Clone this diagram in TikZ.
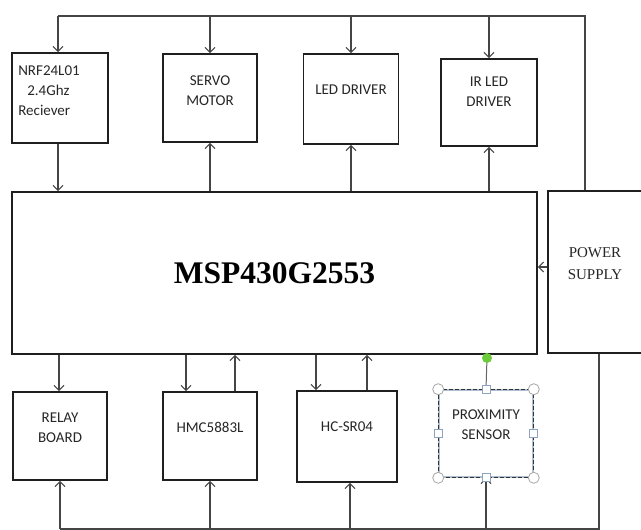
\documentclass[tikz,border=0pt]{standalone}
\usepackage{fontspec}
\setmainfont{Carlito}
\newfontfamily\timesfont{Liberation Serif}
\usepackage{xcolor}
\usetikzlibrary{positioning, arrows.meta, calc}
\definecolor{wirecol}{HTML}{454545}
\definecolor{handlecol}{HTML}{8DA3BF}
\definecolor{rotgreen}{HTML}{6CCB3A}

\begin{document}
\begin{tikzpicture}[
    x=1pt, y=-1pt,
    box/.style={rectangle, draw=black!88, line width=1.8pt, inner sep=0pt, minimum width=95pt, minimum height=89pt},
    lbl/.style={inner sep=0pt, align=center, font=\fontsize{15}{20}\selectfont, text=black!85},
    arrow/.style={line width=1.1pt, draw=wirecol, -{Straight Barb[length=5pt,width=10pt]}},
    wire/.style={line width=1.1pt, draw=wirecol},
    corner/.style={circle, draw=black!35, fill=white, line width=0.8pt, minimum size=11pt, inner sep=0pt},
    side/.style={rectangle, draw=handlecol, fill=white, line width=0.8pt, minimum size=8pt, inner sep=0pt}
]
\useasboundingbox (0,0) rectangle (641,530);
\clip (0,0) rectangle (641,530);

% Nodes
\node[box, minimum width=96pt, minimum height=90pt] (nrf) at (60,98) {};
\node[lbl, align=left, anchor=north west] (nrf-t) at ($(nrf.north west)+(7,13)$) {NRF24L01\\\hspace{9pt}2.4Ghz\\Reciever};

\node[box, minimum width=94pt, minimum height=88pt] (servo) at (210,98) {};
\node[lbl, below=22pt of servo.north] (servo-t) {SERVO\\MOTOR};

\node[box, minimum width=95pt, minimum height=90pt] (led) at (351,99) {};
\node[lbl, below=32pt of led.north] (led-t) {LED DRIVER};

\node[box, minimum width=96pt, minimum height=87pt] (ir) at (489,102.5) {};
\node[lbl, below=19pt of ir.north] (ir-t) {IR LED\\DRIVER};

\node[box, minimum width=525pt, minimum height=162pt] (msp) at (274.5,273) {\timesfont\bfseries\fontsize{31.5}{34}\selectfont MSP430G2553};

\node[box, minimum width=96pt, minimum height=162pt] (power) at (596,272) {};
\node[lbl, font=\timesfont\fontsize{15}{22}\selectfont, text=black!85] (power-t) at (595,264) {POWER\\SUPPLY};

\node[box, minimum width=94pt, minimum height=88pt] (relay) at (60,436) {};
\node[lbl, below=22pt of relay.north] (relay-t) {RELAY\\BOARD};

\node[box, minimum width=94pt, minimum height=88pt] (hmc) at (210,436) {};
\node[lbl, below=31pt of hmc.north] (hmc-t) {HMC5883L};

\node[box, minimum width=100pt, minimum height=91pt] (hc) at (347,436.5) {};
\node[lbl, below=31pt of hc.north] (hc-t) {HC-SR04};

\node[rectangle, draw=handlecol!70, line width=1.6pt, minimum width=94pt, minimum height=87pt, inner sep=0pt] (prox) at (486,433.5) {};
\draw[black!80, line width=1pt, dash pattern=on 4pt off 2pt] (prox.north west) rectangle (prox.south east);
\node[lbl, below=20pt of prox.north] (prox-t) {PROXIMITY\\SENSOR};

% Bus coordinates
\coordinate (topbus) at (58,16);
\coordinate (botbus) at (60,529);

% Power supply bus, top
\draw[wire] (585,0 |- power.north) |- (topbus);
\draw[arrow] (topbus) -- (topbus |- nrf.north);
\draw[arrow] (servo.north |- topbus) -- (servo.north);
\draw[arrow] (led.north |- topbus) -- (led.north);
\draw[arrow] (ir.north |- topbus) -- (ir.north);

% Top row to and from the MCU
\draw[arrow] (nrf.south -| topbus) -- (topbus |- msp.north);
\draw[arrow] (servo.north |- msp.north) -- (servo.south);
\draw[arrow] (led.north |- msp.north) -- (led.south);
\draw[arrow] (ir.north |- msp.north) -- (ir.south);
\draw[arrow] (power.west |- 0,267) -- (msp.east |- 0,267);

% Bottom row to and from the MCU
\draw[arrow] (59,0 |- msp.south) -- (59,0 |- relay.north);
\draw[arrow] (186,0 |- msp.south) -- (186,0 |- hmc.north);
\draw[arrow] (235,0 |- hmc.north) -- (235,0 |- msp.south);
\draw[arrow] (316,0 |- msp.south) -- (316,0 |- hc.north);
\draw[arrow] (367,0 |- hc.north) -- (367,0 |- msp.south);

% Power supply bus, bottom
\draw[wire] (599,0 |- power.south) |- (botbus);
\draw[arrow] (botbus) -- (botbus |- relay.south);
\draw[arrow] (hmc.south |- botbus) -- (hmc.south);
\draw[arrow] (350,0 |- botbus) -- (350,0 |- hc.south);
\draw[arrow] (prox.south |- botbus) -- (prox.south);

% Selection handles
\coordinate (rot) at (487,358);
\draw[black!60, line width=1pt] (rot) -- (prox.north);
\node[circle, fill=rotgreen, minimum size=10pt, inner sep=0pt] (rot-h) at (rot) {};
\foreach \a in {north west, north east, south west, south east}
    \node[corner] at (prox.\a) {};
\foreach \a in {north, south, east, west}
    \node[side] at (prox.\a) {};

\end{tikzpicture}
\end{document}
